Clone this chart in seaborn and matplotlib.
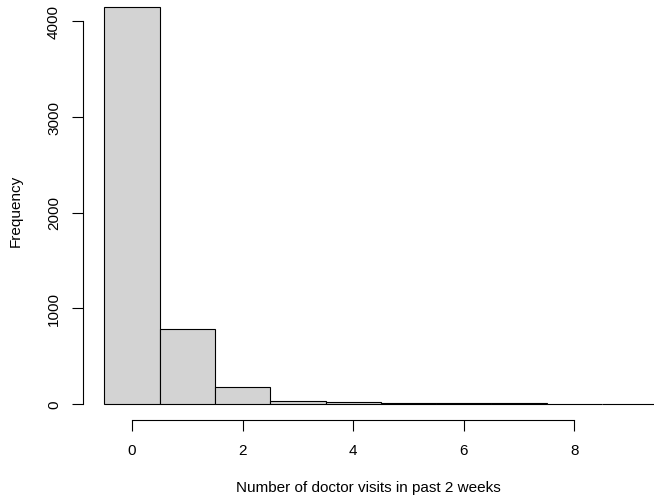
import matplotlib
matplotlib.use('Agg')
import matplotlib.pyplot as plt
import pandas as pd
import seaborn as sns

# doctor visits in past 2 weeks (count per value)
visits = [0, 1, 2, 3, 4, 5, 6, 7, 8, 9]
counts = [4141, 782, 174, 30, 24, 9, 12, 12, 5, 1]
x_ticks = [0, 2, 4, 6, 8]
y_ticks = [0, 1000, 2000, 3000, 4000]

df = pd.DataFrame({'visits': visits, 'count': counts})

sns.set_style('white')
plt.rcParams['font.family'] = ['Liberation Sans', 'DejaVu Sans']
plt.rcParams['font.size'] = 11
plt.rcParams['text.color'] = 'black'
plt.rcParams['axes.labelcolor'] = 'black'
plt.rcParams['xtick.color'] = 'black'
plt.rcParams['ytick.color'] = 'black'

W, H = 654, 502
fig = plt.figure(figsize=(W / 100, H / 100), dpi=100)
# axes box in pixels: left 83, right 654, top 0, bottom 421
ax = fig.add_axes([83.3 / W, 1 - 421 / H, (654 - 83.3) / W, 421 / H])

sns.histplot(data=df, x='visits', weights='count', discrete=True, shrink=1,
             color='#D3D3D3', edgecolor='black', linewidth=0.8, alpha=1,
             ax=ax)

px_per_unit = 55.3
ax.set_xlim((83.3 - 132) / px_per_unit, (654 - 132) / px_per_unit)
ax.set_ylim((405 - 421) / 0.09575, 405 / 0.09575)

for s in ['top', 'right']:
    ax.spines[s].set_visible(False)
ax.spines['left'].set_bounds(0, 4000)
ax.spines['bottom'].set_bounds(0, 8)
for s in ['left', 'bottom']:
    ax.spines[s].set_linewidth(0.8)
    ax.spines[s].set_color('black')

ax.set_xticks(x_ticks)
ax.set_yticks(y_ticks)
ax.set_yticklabels([str(v) for v in y_ticks], rotation=90, va='center')
ax.tick_params(axis='both', direction='out', length=7.7, width=0.8,
               color='black', labelcolor='black', labelsize=11,
               left=True, bottom=True)
ax.tick_params(axis='y', pad=8.3)
ax.tick_params(axis='x', pad=8.9)

ax.set_xlabel('Number of doctor visits in past 2 weeks', fontsize=11, labelpad=16.7)
ax.set_ylabel('Frequency', fontsize=11, labelpad=17.7)
ax.grid(False)

fig.savefig('out.png', dpi=100)
